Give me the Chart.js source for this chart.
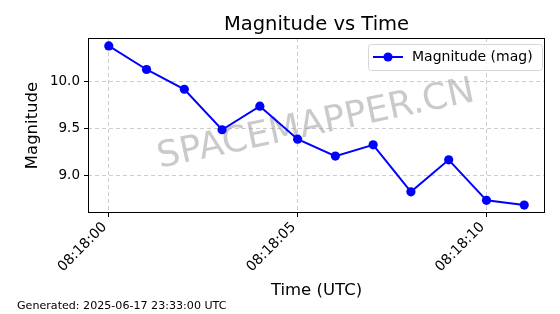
<!DOCTYPE html>
<html>
<head>
<meta charset="utf-8">
<script src="https://cdn.jsdelivr.net/npm/chart.js@4"></script>
<style>
  html, body { margin: 0; padding: 0; background: #fff; }
  #wrap { width: 560px; height: 314px; }
</style>
</head>
<body>
<div id="wrap"><canvas id="magChart" width="560" height="314"></canvas></div>
<script>
// observation times (UTC) and magnitudes
const times = ["08:18:00", "08:18:01", "08:18:02", "08:18:03", "08:18:04", "08:18:05",
               "08:18:06", "08:18:07", "08:18:08", "08:18:09", "08:18:10", "08:18:11"];
const magnitudes = [10.38, 10.13, 9.92, 9.49, 9.74, 9.39, 9.21, 9.33, 8.83, 9.17, 8.74, 8.69];
const xTickLabels = ["08:18:00", "08:18:05", "08:18:10"];
const yTickValues = [9.0, 9.5, 10.0];
const titleText = "Magnitude vs Time";
const footerText = "Generated: 2025-06-17 23:33:00 UTC";
const watermark = "SPACEMAPPER.CN";

const FONT = "'DejaVu Sans', sans-serif";

function toSec(t) {
	const p = t.split(":").map(Number);
	return p[0] * 3600 + p[1] * 60 + p[2];
}
const t0 = toSec(times[0]);
const points = times.map((t, i) => ({ x: toSec(t) - t0, y: magnitudes[i] }));
const xTicks = xTickLabels.map((t) => toSec(t) - t0);

// matplotlib-ish 5% margins
const xSpan = points[points.length - 1].x - points[0].x;
const yMin = Math.min(...magnitudes), yMax = Math.max(...magnitudes);
const ySpan = yMax - yMin;

const extras = {
	id: "extras",
	beforeDatasetsDraw(chart) {
		const { ctx, chartArea: a } = chart;
		ctx.save();
		ctx.beginPath();
		ctx.rect(a.left, a.top, a.right - a.left, a.bottom - a.top);
		ctx.clip();
		ctx.translate(316, 125);
		ctx.rotate(-12 * Math.PI / 180);
		ctx.font = "36px " + FONT;
		ctx.fillStyle = "rgba(150,150,150,0.5)";
		ctx.textAlign = "center";
		ctx.textBaseline = "middle";
		ctx.fillText(watermark, 0, 0);
		ctx.restore();
	},
	afterDraw(chart) {
		const { ctx, chartArea: a } = chart;
		ctx.save();
		// axes box
		ctx.strokeStyle = "#000";
		ctx.lineWidth = 1;
		ctx.strokeRect(a.left + 0.5, a.top + 0.5, a.right - a.left - 1, a.bottom - a.top - 1);

		// title centred over the axes, like matplotlib
		ctx.fillStyle = "#000";
		ctx.font = "19.5px " + FONT;
		ctx.textAlign = "center";
		ctx.textBaseline = "middle";
		ctx.fillText(titleText, (a.left + a.right) / 2, 24.5);

		// legend
		const lx = 368.5, ly = 44.5, lw = 174, lh = 26;
		ctx.fillStyle = "rgba(255,255,255,0.8)";
		ctx.strokeStyle = "#d6d6d6";
		ctx.beginPath();
		ctx.roundRect(lx, ly, lw, lh, 3);
		ctx.fill();
		ctx.stroke();
		ctx.strokeStyle = "#0000ff";
		ctx.lineWidth = 2;
		ctx.beginPath();
		ctx.moveTo(373, 57);
		ctx.lineTo(403, 57);
		ctx.stroke();
		ctx.fillStyle = "#0000ff";
		ctx.beginPath();
		ctx.arc(388, 57, 4.6, 0, Math.PI * 2);
		ctx.fill();
		ctx.fillStyle = "#000";
		ctx.font = "14px " + FONT;
		ctx.textBaseline = "middle";
		ctx.textAlign = "left";
		ctx.fillText("Magnitude (mag)", 412, 57.5);

		// footer
		ctx.font = "11.1px " + FONT;
		ctx.textBaseline = "alphabetic";
		ctx.fillText(footerText, 17, 309);
		ctx.restore();
	},
};

new Chart(document.getElementById("magChart").getContext("2d"), {
	type: "line",
	data: {
		datasets: [
			{
				label: "Magnitude (mag)",
				data: points,
				borderColor: "#0000ff",
				backgroundColor: "#0000ff",
				borderWidth: 2,
				pointRadius: 4.6,
				pointHoverRadius: 4.6,
				pointBorderWidth: 0,
				tension: 0,
				fill: false,
			},
		],
	},
	options: {
		responsive: false,
		animation: false,
		layout: { padding: { left: 0, right: 15, top: 38, bottom: 13 } },
		plugins: {
			legend: { display: false },
			tooltip: { enabled: false },
			title: { display: false },
		},
		scales: {
			x: {
				type: "linear",
				min: points[0].x - xSpan * 0.05,
				max: points[points.length - 1].x + xSpan * 0.05,
				afterBuildTicks: (s) => { s.ticks = xTicks.map((v) => ({ value: v })); },
				afterFit: (s) => { s.height = 88; },
				ticks: {
					autoSkip: false,
					minRotation: 45,
					maxRotation: 45,
					color: "#000",
					padding: 2,
					labelOffset: -4,
					font: { family: FONT, size: 14 },
					callback: (v) => xTickLabels[xTicks.indexOf(v)] ?? "",
				},
				grid: {
					color: "#cccccc",
					tickColor: "#000",
					tickLength: 4,
					tickBorderDash: [],
				},
				border: { display: false, dash: [4, 3] },
				title: {
					display: true,
					text: "Time (UTC)",
					color: "#000",
					font: { family: FONT, size: 16.5 },
					padding: { top: 0, bottom: 0 },
				},
			},
			y: {
				min: yMin - ySpan * 0.05,
				max: yMax + ySpan * 0.05,
				afterBuildTicks: (s) => { s.ticks = yTickValues.map((v) => ({ value: v })); },
				afterFit: (s) => { s.width = 88; },
				ticks: {
					color: "#000",
					padding: 4,
					font: { family: FONT, size: 13.5 },
					callback: (v) => Number(v).toFixed(1),
				},
				grid: {
					color: "#cccccc",
					tickColor: "#000",
					tickLength: 4,
					tickBorderDash: [],
				},
				border: { display: false, dash: [4, 3] },
				title: {
					display: true,
					text: "Magnitude",
					color: "#000",
					font: { family: FONT, size: 16.5 },
					padding: { top: 23, bottom: 0 },
				},
			},
		},
	},
	plugins: [extras],
});
</script>
</body>
</html>
